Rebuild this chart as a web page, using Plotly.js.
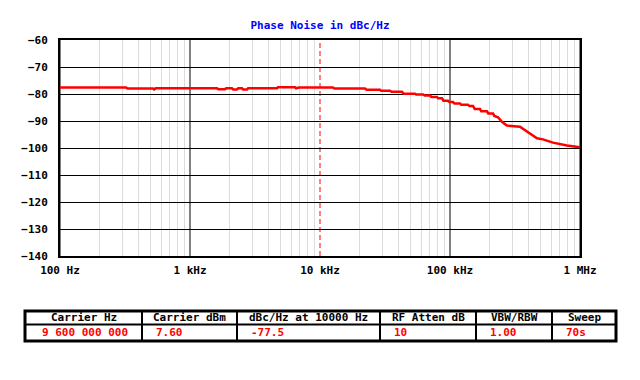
<!DOCTYPE html>
<html><head><meta charset="utf-8">
<script src="https://cdn.plot.ly/plotly-3.0.1.min.js"></script>
<style>html,body{margin:0;padding:0;background:#fff}#chart{width:640px;height:380px}</style>
</head><body><div id="chart"></div>
<script>
// Offset frequency (Hz) and phase noise (dBc/Hz)
const freqHz = [100, 322, 330, 519, 529, 545, 1613, 1650, 1858, 1900, 2104, 2150, 2299, 2350, 2512, 2560, 2745, 2800, 4670, 4750, 6422, 6550, 6900, 7100, 12600, 12900, 22200, 22800, 28950, 29500, 34500, 35500, 42700, 44000, 53800, 55000, 62000, 64000, 70200, 72000, 79400, 81000, 86800, 89000, 96600, 99000, 105500, 108000, 119400, 122000, 137500, 141000, 150300, 155000, 170100, 174000, 192600, 197000, 214200, 219000, 234000, 252000, 274200, 345200, 390800, 467000, 519000, 620000, 794300, 966000, 1000000];
const phaseNoise = [-77.6, -77.6, -78.0, -78.0, -78.3, -77.9, -77.9, -78.2, -78.2, -77.9, -77.9, -78.3, -78.3, -77.9, -77.9, -78.3, -78.3, -77.9, -77.9, -77.5, -77.5, -77.9, -77.6, -77.6, -77.6, -78.0, -78.0, -78.4, -78.4, -78.8, -78.8, -79.2, -79.2, -79.9, -79.9, -80.2, -80.2, -80.6, -80.6, -81.1, -81.1, -81.6, -81.6, -82.5, -82.5, -83.0, -83.0, -83.5, -83.5, -84.0, -84.0, -84.4, -84.4, -85.6, -85.6, -86.4, -86.4, -87.2, -87.2, -88.1, -88.6, -90.4, -91.7, -92.1, -94.0, -96.4, -96.8, -98.0, -99.1, -99.6, -99.7];

const xTickVals = [100, 1000, 10000, 100000, 1000000];
const xTickText = ['100 Hz', '1 kHz', '10 kHz', '100 kHz', '1 MHz'];
const markerFreq = 10000;

const tableHeaders = ['Carrier Hz', 'Carrier dBm', 'dBc/Hz at 10000 Hz', 'RF Atten dB', 'VBW/RBW', 'Sweep'];
const tableValues = ['9 600 000 000', '7.60', '-77.5', '10', '1.00', '70s'];
const tableColWidths = [117, 95, 143, 96, 76, 64];

const minorVals = [];
for (let d = 100; d < 1000000; d *= 10) for (let k = 2; k <= 9; k++) minorVals.push(d * k);
const majorGrid = xTickVals.filter(v => v !== markerFreq);

const W = 640, H = 380;
const font = {family: '"DejaVu Sans Mono", monospace', size: 11, color: '#000', weight: 'bold'};
const py = p => 1 - p / H, px = p => p / W;

const traces = [
  {x: freqHz, y: phaseNoise, type: 'scatter', mode: 'lines', line: {color: '#ff0000', width: 2.5}, hoverinfo: 'skip'}
];

const shapes = majorGrid.map(v => ({type: 'line', xref: 'x', yref: 'paper', x0: v, x1: v, y0: py(256), y1: py(40), line: {color: '#000', width: 1}, layer: 'below'}));
shapes.push({type: 'line', xref: 'x', yref: 'paper', x0: markerFreq, x1: markerFreq, y0: py(256), y1: py(40), line: {color: '#ff0000', width: 1, dash: '5px,3px'}, layer: 'below'});

// table drawn with shapes & annotations
const tL = 25, tTop = 311, tMid = 324.5, tBot = 341;
const annotations = [];
let cx = tL;
tableColWidths.forEach((w, i) => {
  if (i > 0) shapes.push({type: 'line', xref: 'paper', yref: 'paper', x0: px(cx), x1: px(cx), y0: py(tBot), y1: py(tTop), line: {color: '#000', width: 2}});
  annotations.push({xref: 'paper', yref: 'paper', x: px(cx + w / 2), y: py(317.8), text: tableHeaders[i], showarrow: false, xanchor: 'center', yanchor: 'middle', font: font});
  annotations.push({xref: 'paper', yref: 'paper', x: px(cx + (i === 0 ? 15 : 12)), y: py(332.8), text: tableValues[i], showarrow: false, xanchor: 'left', yanchor: 'middle', font: Object.assign({}, font, {color: '#ff0000'})});
  cx += w;
});
shapes.push({type: 'line', xref: 'paper', yref: 'paper', x0: px(tL), x1: px(cx), y0: py(tMid), y1: py(tMid), line: {color: '#000', width: 2}});
shapes.push({type: 'rect', xref: 'paper', yref: 'paper', x0: px(tL), x1: px(cx), y0: py(tBot), y1: py(tTop), line: {color: '#000', width: 3}, fillcolor: 'rgba(0,0,0,0)'});

const layout = {
  width: W, height: H,
  margin: {l: 0, r: 0, t: 0, b: 0},
  paper_bgcolor: '#fff', plot_bgcolor: '#fff',
  showlegend: false,
  font: font,
  title: {text: 'Phase Noise in dBc/Hz', font: Object.assign({}, font, {color: '#0000ff'}), x: px(320), xanchor: 'center', y: py(25), yanchor: 'middle'},
  xaxis: {type: 'log', domain: [px(60), px(580)], range: [2, 6], tickvals: xTickVals, ticktext: xTickText,
          showgrid: false, ticks: '', ticklabelstandoff: 3, showline: true, linewidth: 2, linecolor: '#000', mirror: true,
          minor: {tickvals: minorVals, showgrid: true, gridcolor: '#dcdcdc', gridwidth: 1, ticks: ''},
          tickfont: font, zeroline: false},
  yaxis: {domain: [py(256), py(40)], range: [-140, -60], dtick: 10, tick0: -140, showgrid: true, gridcolor: '#000', gridwidth: 1,
          ticks: '', ticklabelstandoff: 8, showline: true, linewidth: 2, linecolor: '#000', mirror: true, tickfont: font, zeroline: false},
  shapes: shapes,
  annotations: annotations
};

Plotly.newPlot('chart', traces, layout, {staticPlot: true, displayModeBar: false});
</script></body></html>
